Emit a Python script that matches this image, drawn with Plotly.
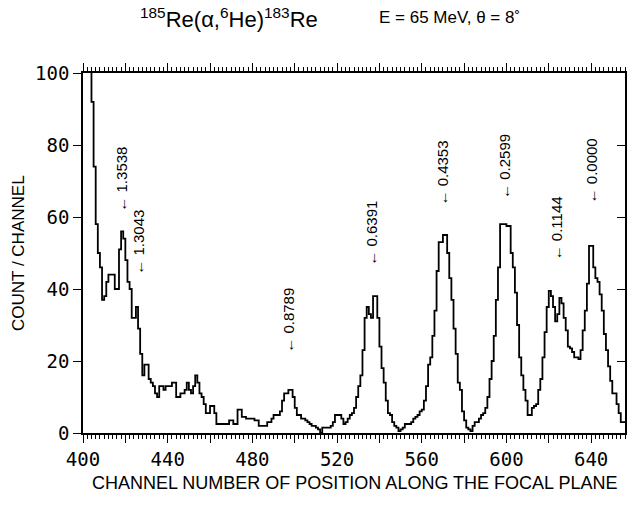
import plotly.graph_objects as go

# ---- data ----
channel_start = 400
counts = [
    120, 115, 108, 104, 92, 74, 58, 50, 46, 37,      # 400-409
    38, 42, 44, 44, 44, 40, 40, 51, 56, 54,           # 410-419
    48, 42, 40, 32, 32, 35, 29, 22, 16, 19,           # 420-429
    19, 15, 14, 13, 11, 10, 13, 13, 12, 13,           # 430-439
    13, 13, 14, 14, 10, 10, 11, 11, 12, 14,           # 440-449
    12, 11, 13, 16, 14, 11, 10, 8, 5.5, 5.5,          # 450-459
    7.5, 7.5, 5.5, 2.5, 2.5, 2.5, 2.5, 2.5, 2.5, 3.5, # 460-469
    3.5, 2.5, 2.5, 6.5, 6.5, 4.5, 4.5, 4, 4, 4,       # 470-479
    4, 3.5, 3.5, 2, 2, 2, 2, 3, 3, 4,                 # 480-489
    5, 5, 5, 6, 9, 11, 11, 12, 12, 10,                # 490-499
    7, 5, 5, 4, 4, 3.5, 3, 2.5, 2, 2,                 # 500-509
    1.5, 1, 0, 1.5, 1.5, 1.5, 1.5, 2, 3, 5,           # 510-519
    5, 5, 4, 2.5, 3, 4, 5, 5.5, 7, 10,                # 520-529
    13, 16, 23, 32, 35, 33, 32, 38, 38, 32,           # 530-539
    24, 18, 14, 9, 5.5, 5, 3, 2, 1.5, 0.5,            # 540-549
    1, 1.5, 2.5, 2.5, 2.5, 3, 4, 4.5, 5, 6,           # 550-559
    6.5, 9, 13, 19, 21, 27, 34, 45, 53, 53,           # 560-569
    55, 55, 50, 43, 37, 29, 22, 14, 12, 6,            # 570-579
    3.5, 1.5, 1, 0.5, 2, 3, 3, 4, 5, 5.5,             # 580-589
    7, 10, 15, 20, 27, 37, 46, 58, 58, 58,            # 590-599
    57.5, 57.5, 50, 46, 39, 30, 21, 16, 12, 9,        # 600-609
    5, 5, 7, 7.5, 8, 12, 15, 21, 28, 35,              # 610-619
    39.5, 38, 35, 31, 33, 37.5, 36, 32, 28.5, 24,     # 620-629
    23.5, 22.5, 21, 21, 20.5, 23, 28.5, 34, 41.5, 52, # 630-639
    52, 46, 43, 42, 38.5, 34, 27.5, 23, 18.5, 14.5,   # 640-649
    11, 11, 8, 5.5, 3, 3,                             # 650-655
]
channels = [channel_start + i for i in range(len(counts))]

peak_labels = ["1.3538", "1.3043", "0.8789", "0.6391", "0.4353", "0.2599", "0.1144", "0.0000"]
peak_channels = [418.3, 426.5, 497.3, 536.4, 569.9, 599.3, 623.4, 640.3]
peak_arrow_y = [61.0, 43.3, 21.6, 46.0, 62.7, 64.6, 47.4, 63.3]

x_ticks = [400, 420, 440, 460, 480, 500, 520, 540, 560, 580, 600, 620, 640]
x_ticktext = ["400", "", "440", "", "480", "", "520", "", "560", "", "600", "", "640"]
y_ticks = [0, 20, 40, 60, 80, 100]

# step edges
xs = channels + [channels[-1] + 1]
ys = counts + [counts[-1]]

fig = go.Figure()
fig.add_trace(go.Scatter(x=xs, y=ys, mode="lines", line=dict(color="black", width=1.8, shape="hv"),
                         showlegend=False, hoverinfo="skip"))
fig.add_trace(go.Scatter(x=[400], y=[0], yaxis="y2", mode="markers", marker=dict(opacity=0),
                         showlegend=False, hoverinfo="skip"))

tickfont = dict(family="DejaVu Sans Mono", size=19, color="black")

fig.update_layout(
    width=637, height=511,
    margin=dict(l=83, r=12, t=73, b=78),
    paper_bgcolor="white", plot_bgcolor="white",
    font=dict(family="Liberation Sans, Arial, sans-serif", color="black"),
    xaxis=dict(range=[400, 656], tickmode="array", tickvals=x_ticks, ticktext=x_ticktext,
               ticks="outside", ticklen=8, tickwidth=1.2, tickcolor="black",
               showline=True, linecolor="black", linewidth=1.5, mirror="ticks",
               showgrid=False, zeroline=False, tickfont=tickfont,
               minor=dict(tick0=400, dtick=2, ticks="outside", ticklen=4, tickwidth=1, tickcolor="black")),
    yaxis=dict(range=[0, 100], tickmode="array", tickvals=y_ticks,
               ticks="outside", ticklen=8, tickwidth=1.2, tickcolor="black",
               showline=True, linecolor="black", linewidth=1.5,
               showgrid=False, zeroline=False, tickfont=tickfont),
    yaxis2=dict(range=[0, 100], overlaying="y", side="right", tickmode="array", tickvals=y_ticks,
                ticks="inside", ticklen=8, tickwidth=1.2, tickcolor="black",
                showline=True, linecolor="black", linewidth=1.5,
                showticklabels=False, showgrid=False, zeroline=False),
)

for lab, cx, cy in zip(peak_labels, peak_channels, peak_arrow_y):
    fig.add_annotation(x=cx, y=cy, xref="x", yref="y", text="\u2190 " + lab, textangle=-90,
                       showarrow=False, xanchor="center", yanchor="bottom",
                       font=dict(family="Liberation Sans", size=15, color="black"))

fig.add_annotation(x=0.269, y=1.153, xref="paper", yref="paper", showarrow=False,
                   xanchor="center", yanchor="middle",
                   text="<sup>185</sup>Re(\u03b1,<sup>6</sup>He)<sup>183</sup>Re",
                   font=dict(family="Liberation Sans", size=22, color="black"))
fig.add_annotation(x=0.677, y=1.153, xref="paper", yref="paper", showarrow=False,
                   xanchor="center", yanchor="middle",
                   text="E = 65 MeV, \u03b8 = 8\u02da",
                   font=dict(family="Liberation Sans", size=17, color="black"))
fig.add_annotation(x=0.5, y=-0.139, xref="paper", yref="paper", showarrow=False,
                   xanchor="center", yanchor="middle",
                   text="CHANNEL NUMBER OF POSITION ALONG THE FOCAL PLANE",
                   font=dict(family="Liberation Sans", size=18, color="black"))
fig.add_annotation(x=-0.12, y=0.5, xref="paper", yref="paper", showarrow=False, textangle=-90,
                   xanchor="center", yanchor="middle",
                   text="COUNT / CHANNEL",
                   font=dict(family="Liberation Sans", size=17, color="black"))

fig.write_html("out.html")
